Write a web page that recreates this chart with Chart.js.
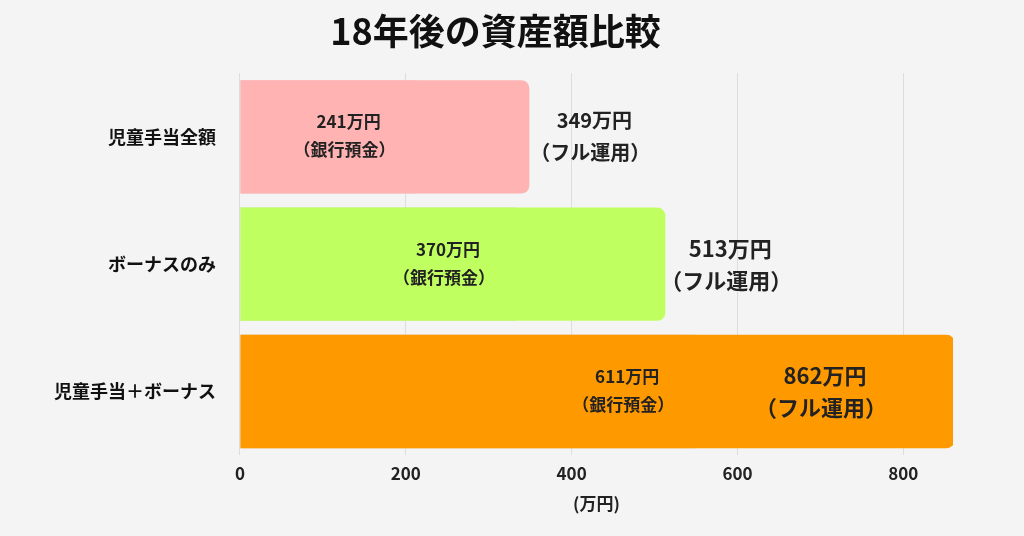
<!DOCTYPE html>
<html><head><meta charset="utf-8">
<script src="https://cdn.jsdelivr.net/npm/chart.js@4"></script>
<style>body{margin:0;background:#f4f4f4}#wrap{width:1024px;height:536px}</style>
</head><body><div id="wrap"><canvas id="c"></canvas></div>
<script>
const categories = ['児童手当全額', 'ボーナスのみ', '児童手当＋ボーナス'];
const bankValues = [213, 333, 549];
const fullValues = [349, 513, 862];
const bankLabels = ['241万円', '370万円', '611万円'];
const fullLabels = ['349万円', '513万円', '862万円'];
const bankColors = ['#dcc9c9', '#cddbb1', '#d9c09d'];
const fullColors = ['#ffb3b3', '#c0ff60', '#ff9900'];
const font = "'Noto Sans CJK JP', 'Noto Sans', sans-serif";

const labelPlugin = {
    id: 'labels',
    afterDatasetsDraw(chart) {
        const ctx = chart.ctx;
        const x = chart.scales.x;
        const bars = chart.getDatasetMeta(1).data;
        ctx.save();
        ctx.textAlign = 'center';
        ctx.textBaseline = 'middle';
        ctx.fillStyle = '#222';
        bars.forEach((b, i) => {
            const y = b.y;
            const bx = x.getPixelForValue(bankValues[i]) - 68;
            ctx.font = 'bold 17px ' + font;
            ctx.fillText(bankLabels[i], bx, y - 15);
            ctx.fillText('（銀行預金）', bx - 4, y + 13);
            let fx;
            if (i == 2) {
                fx = (x.getPixelForValue(bankValues[i]) + x.getPixelForValue(fullValues[i])) / 2;
            } else {
                fx = x.getPixelForValue(fullValues[i]) + 65;
            }
            ctx.font = 'bold ' + (i == 0 ? 20 : 22) + 'px ' + font;
            ctx.fillText(fullLabels[i], fx, y - 16);
            ctx.fillText('（フル運用）', fx - 4, y + 16);
        });
        ctx.restore();
    }
};

new Chart(document.getElementById('c'), {
    type: 'bar',
    data: {
        labels: categories,
        datasets: [{
            data: fullValues,
            backgroundColor: fullColors,
            borderRadius: 8,
            borderSkipped: 'start',
            grouped: false
        }, {
            data: bankValues,
            backgroundColor: bankColors,
            grouped: false
        }]
    },
    options: {
        indexAxis: 'y',
        responsive: true,
        maintainAspectRatio: false,
        animation: false,
        layout: {padding: {left: 38, right: 71, top: 0, bottom: 18}},
        datasets: {bar: {barPercentage: 0.89, categoryPercentage: 1}},
        plugins: {
            legend: {display: false},
            tooltip: {enabled: false},
            title: {
                display: true,
                text: '18年後の資産額比較',
                color: '#111',
                font: {family: font, size: 36, weight: 'bold'},
                padding: {top: 10, bottom: 20}
            }
        },
        scales: {
            x: {
                min: 0, max: 860,
                afterBuildTicks(s) { s.ticks = [0, 200, 400, 600, 800].map(v => ({value: v})); },
                grid: {color: '#dddddd', drawTicks: false},
                border: {display: false},
                ticks: {color: '#222', padding: 8, font: {family: font, size: 17, weight: 'bold'}},
                title: {display: true, text: '(万円)', color: '#222', padding: {top: 2}, font: {family: font, size: 17, weight: 'bold'}}
            },
            y: {
                grid: {display: false},
                border: {display: false},
                ticks: {color: '#111', padding: 16, font: {family: font, size: 18, weight: 'bold'}}
            }
        }
    },
    plugins: [labelPlugin]
});
</script></body></html>
